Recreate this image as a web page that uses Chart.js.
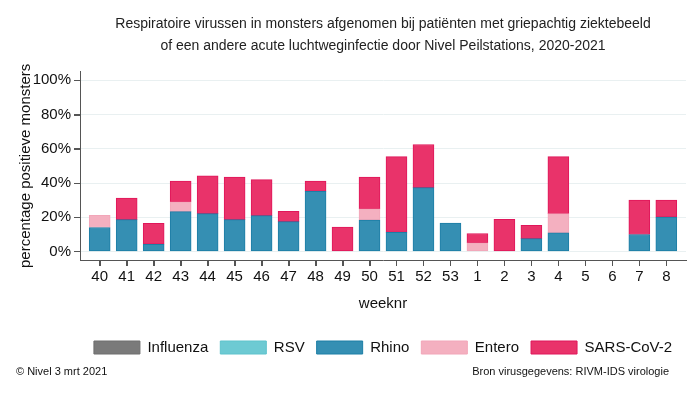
<!DOCTYPE html>
<html>
<head>
<meta charset="utf-8">
<script src="https://cdn.jsdelivr.net/npm/chart.js@4/dist/chart.umd.min.js"></script>
<style>
  html, body { margin: 0; padding: 0; background: #fff; }
  #wrap { width: 700px; height: 395px; }
</style>
</head>
<body>
<div id="wrap"><canvas id="chart" width="700" height="395"></canvas></div>
<script>
// Weeknummers 2020-2021
const weeks = ['40', '41', '42', '43', '44', '45', '46', '47', '48', '49', '50', '51', '52', '53',
               '1', '2', '3', '4', '5', '6', '7', '8'];

// Percentage positieve monsters per virus (gestapeld)
const influenza = [0, 0, 0, 0, 0, 0, 0, 0, 0, 0, 0, 0, 0, 0, 0, 0, 0, 0, 0, 0, 0, 0];
const rsv       = [0, 0, 0, 0, 0, 0, 0, 0, 0, 0, 0, 0, 0, 0, 0, 0, 0, 0, 0, 0, 0, 0];
const rhino     = [14, 18.6, 4.2, 23.3, 22.1, 18.6, 20.9, 17.4, 35.1, 0, 18.4, 11.1, 37.3, 16.6,
                   0, 0, 7.5, 10.9, 0, 0, 9.9, 20.1];
const entero    = [7.1, 0, 0, 5.7, 0, 0, 0, 0, 0, 0, 6.5, 0, 0, 0,
                   5.1, 0, 0, 11.2, 0, 0, 0, 0];
const sarsCov2  = [0, 12.6, 12.2, 12.2, 22.1, 24.8, 21.1, 6.1, 6.1, 14.2, 18.5, 44.3, 25.2, 0,
                   5.4, 18.7, 7.7, 33.3, 0, 0, 20.1, 9.9];

const yTicks = [0, 20, 40, 60, 80, 100];

const FONT = 'Liberation Sans, Arial, sans-serif';

function toPoints(values) {
    return values.map((v, i) => ({ x: i, y: v === 0 ? null : v }));
}

function makeSet(label, values, fill, border) {
    return {
        label: label,
        data: toPoints(values),
        backgroundColor: fill,
        borderColor: border,
        borderWidth: 1,
        borderSkipped: false,
        barThickness: 21,
    };
}

// Tickstreepjes langs de assen en bronvermelding onderaan
const extrasPlugin = {
    id: 'extras',
    afterDraw(chart) {
        const c = chart.ctx;
        const xs = chart.scales.x;
        const ys = chart.scales.y;
        c.save();
        c.strokeStyle = '#555';
        c.lineWidth = 1;
        c.beginPath();
        xs.ticks.forEach(t => {
            const px = Math.round(xs.getPixelForValue(t.value)) + 0.5;
            c.moveTo(px, xs.top);
            c.lineTo(px, xs.top + 6);
        });
        ys.ticks.forEach(t => {
            const py = Math.round(ys.getPixelForValue(t.value)) + 0.5;
            c.moveTo(ys.right - 6, py);
            c.lineTo(ys.right, py);
        });
        c.stroke();

        c.font = '11px ' + FONT;
        c.fillStyle = '#111';
        c.textBaseline = 'middle';
        c.textAlign = 'left';
        c.fillText('\u00A9 Nivel 3 mrt 2021', 16, 372);
        c.textAlign = 'right';
        c.fillText('Bron virusgegevens: RIVM-IDS virologie', 669, 372);
        c.restore();
    }
};

const ctx = document.getElementById('chart').getContext('2d');
const chart = new Chart(ctx, {
    type: 'bar',
    data: {
        datasets: [
            makeSet('Influenza', influenza, '#7a7a7a', '#6e6e6e'),
            makeSet('RSV', rsv, '#6dcad3', '#5ec3cc'),
            makeSet('Rhino', rhino, '#358fb3', '#1d7ea6'),
            makeSet('Entero', entero, '#f4b0c0', '#f2a6b9'),
            makeSet('SARS-CoV-2', sarsCov2, '#e9336a', '#e0165a'),
        ],
    },
    options: {
        responsive: false,
        animation: false,
        layout: { padding: { left: 17, right: 14, top: 0, bottom: 30 } },
        scales: {
            x: {
                type: 'linear',
                stacked: true,
                offset: false,
                min: -0.73,
                max: 21.73,
                afterBuildTicks: (axis) => {
                    axis.ticks = weeks.map((w, i) => ({ value: i }));
                },
                ticks: {
                    callback: (v) => weeks[v],
                    color: '#111',
                    font: { family: FONT, size: 15 },
                    padding: 2,
                    maxRotation: 0,
                    autoSkip: false,
                },
                grid: {
                    offset: false, drawOnChartArea: false, drawTicks: true,
                    tickLength: 6, tickWidth: 1, tickColor: '#555',
                },
                border: { color: '#555', width: 1 },
                title: {
                    display: true,
                    text: 'weeknr',
                    color: '#111',
                    font: { family: FONT, size: 15 },
                    padding: { top: 7, bottom: 15 },
                },
            },
            y: {
                stacked: true,
                min: -5,
                max: 105,
                afterBuildTicks: (axis) => {
                    axis.ticks = yTicks.map(v => ({ value: v }));
                },
                afterFit: (axis) => { axis.width = 63; },
                ticks: {
                    callback: (v) => v + '%',
                    color: '#111',
                    font: { family: FONT, size: 15 },
                    padding: 3,
                },
                grid: { color: '#e9f0f1', tickLength: 6, tickWidth: 1, tickColor: '#555' },
                border: { color: '#555', width: 1 },
                title: {
                    display: true,
                    text: 'percentage positieve monsters',
                    color: '#111',
                    font: { family: FONT, size: 15 },
                    padding: { top: 0, bottom: 0 },
                },
            },
        },
        plugins: {
            title: {
                display: true,
                fullSize: false,
                text: ['Respiratoire virussen in monsters afgenomen bij pati\u00EBnten met griepachtig ziektebeeld',
                       'of een andere acute luchtweginfectie door Nivel Peilstations, 2020-2021'],
                color: '#222',
                font: { family: FONT, size: 14, weight: 'normal', lineHeight: 1.6 },
                padding: { top: 13, bottom: 14 },
            },
            legend: {
                position: 'bottom',
                fullSize: false,
                labels: {
                    boxWidth: 46,
                    boxHeight: 13,
                    padding: 12,
                    color: '#111',
                    font: { family: FONT, size: 15 },
                },
            },
            tooltip: { enabled: false },
        },
    },
    plugins: [extrasPlugin],
});
</script>
</body>
</html>
